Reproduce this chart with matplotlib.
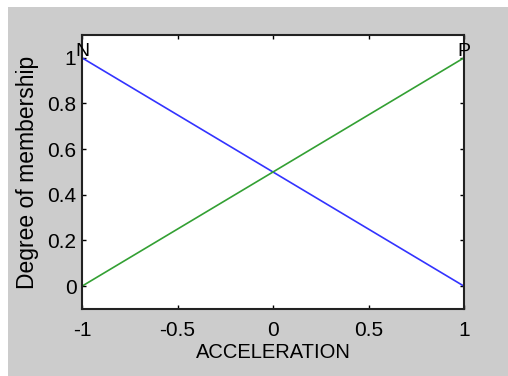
import matplotlib
matplotlib.use("Agg")
import matplotlib.pyplot as plt
from matplotlib.patches import Rectangle

plt.rcParams['font.family'] = ['Liberation Sans', 'DejaVu Sans']

x_vals = [-1, 1]
n_vals = [1, 0]
p_vals = [0, 1]
mf_names = ["N", "P"]
mf_x = [-1, 1]
xticks = [-1, -0.5, 0, 0.5, 1]
yticks = [0, 0.2, 0.4, 0.6, 0.8, 1]

W, H = 508, 376
fig = plt.figure(figsize=(W/100, H/100), dpi=100)
fig.patch.set_facecolor("white")
fig.patches.append(Rectangle((8/W, 0), 1 - 8/W, 1 - 7/H, transform=fig.transFigure,
                             facecolor="#cccccc", edgecolor="none", zorder=-10))

ax = fig.add_axes([82/W, 1 - 309/H, (464-82)/W, (309-35)/H])
ax.set_facecolor("white")
ax.plot(x_vals, n_vals, color="#3333ff", lw=1.2)
ax.plot(x_vals, p_vals, color="#33a033", lw=1.2)
for name, xm in zip(mf_names, mf_x):
    ax.text(xm, 0.99, name, ha="center", va="bottom", fontsize=14)
ax.set_xlim(-1, 1)
ax.set_ylim(-0.1, 1.1)
ax.set_xticks(xticks)
ax.set_xticklabels(["-1", "-0.5", "0", "0.5", "1"])
ax.set_yticks(yticks)
ax.set_yticklabels(["0", "0.2", "0.4", "0.6", "0.8", "1"])
ax.tick_params(direction="in", top=True, right=True, labelsize=15, length=3, width=1)
ax.tick_params(axis="x", pad=9)
ax.tick_params(axis="y", pad=4)
for s in ax.spines.values():
    s.set_linewidth(1.5)
    s.set_color("#222222")
ax.set_xlabel("ACCELERATION", fontsize=14.5, labelpad=2)
ax.set_ylabel("Degree of membership", fontsize=16.5, labelpad=6)
fig.savefig("out.png", dpi=100, facecolor=fig.get_facecolor())
